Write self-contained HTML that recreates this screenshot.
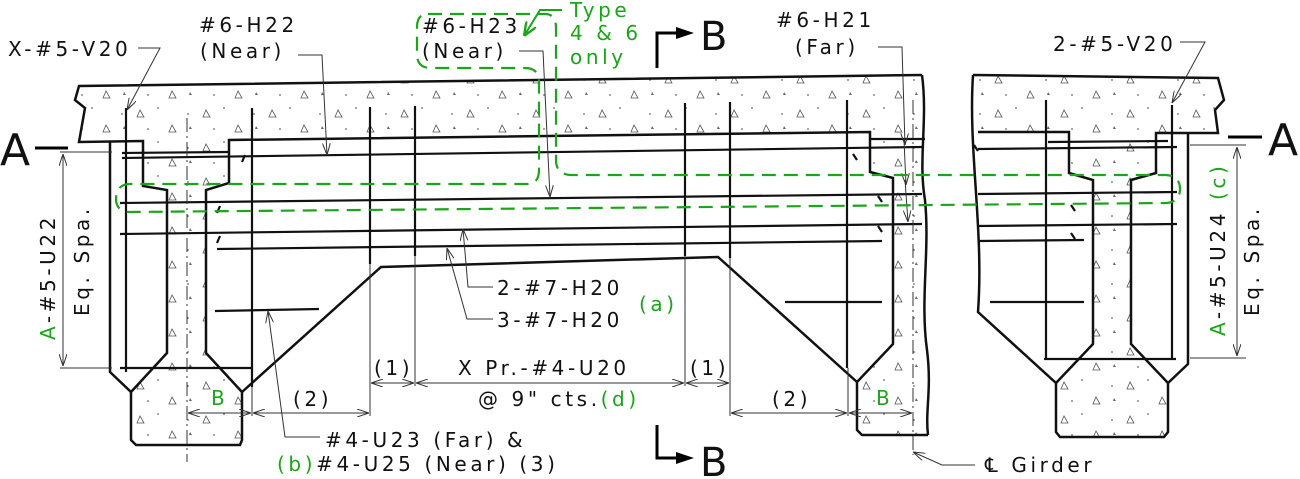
<!DOCTYPE html>
<html><head><meta charset="utf-8"><style>
html,body{margin:0;padding:0;background:#fff;}
svg{display:block;}
text{font-family:"DejaVu Sans","Liberation Sans",sans-serif;font-size:20px;letter-spacing:3.6px;fill:#111;}
.g{fill:#1aa51a;}
</style></head><body>
<svg width="1300" height="479" viewBox="0 0 1300 479" xmlns="http://www.w3.org/2000/svg">
<defs>
<pattern id="conc" width="66" height="34" patternUnits="userSpaceOnUse">
<path d="M8,8 l4,7 h-7 z M40,23 l4,7 h-7 z" fill="none" stroke="#555" stroke-width="0.8"/>
<circle cx="26" cy="6" r="0.9" fill="#666"/><circle cx="56" cy="12" r="0.9" fill="#666"/>
<circle cx="16" cy="27" r="0.9" fill="#666"/>
<path d="M58,24 l2,3 h-3 z" fill="#666"/>
</pattern>
<marker id="ar" viewBox="0 0 12 8" refX="12" refY="4" markerWidth="12" markerHeight="8" orient="auto-start-reverse" markerUnits="userSpaceOnUse">
<path d="M0,0 L12,4 L0,8" fill="none" stroke="#333" stroke-width="1"/></marker>
<marker id="arg" viewBox="0 0 12 10" refX="12" refY="5" markerWidth="14" markerHeight="12" orient="auto" markerUnits="userSpaceOnUse">
<path d="M0,0 L12,5 L0,10" fill="none" stroke="#1aa51a" stroke-width="2"/></marker>
</defs>

<g fill="url(#conc)" stroke="none">
<path d="M79,86 L922,75 L925,135 L229,140 L79,142 L85,108 L75,100 Z"/>
<path d="M143,141 L229,140 L229,183 L206,190 L206,353 L242,392 L242,440 L240,445 L136,445 L131,440 L131,392 L167,353 L167,190 L143,186 Z"/>
<path d="M870,132 L925,132 L928,435 L862,435 L857,430 L857,382 L893,344 L893,178 L870,172 Z"/>
<path d="M973,75 L1218,78 L1224,100 L1215,110 L1218,133 L973,133 Z"/>
<path d="M1069,132 L1156,133 L1156,173 L1131,180 L1131,344 L1168,383 L1168,432 L1164,437 L1060,437 L1056,432 L1056,383 L1093,344 L1093,180 L1069,173 Z"/>
</g>

<g fill="none" stroke="#111" stroke-width="2.5" stroke-linejoin="miter">
<path d="M922,75 L79,86 L75,100 L85,108 L79,142 L143,141 L143,186 L167,190 L167,353 L131,392 L131,440 L136,445 L240,445 L242,440 L242,392 L206,353 L206,190 L229,183 L229,140 L870,132 L870,172 L893,178 L893,344 L857,382 L857,430 L862,435 L928,435"/>
<path d="M922,75 C928,120 918,160 925,200 C930,250 920,300 927,350 C932,390 925,410 928,435"/>
<path d="M242,392 L381,267 L718,257 L857,382"/>
<path d="M973,75 L1218,78 L1224,100 L1215,110 L1218,133 L1156,133 L1156,173 L1131,180 L1131,344 L1168,383 L1168,432 L1164,437 L1060,437 L1056,432 L1056,383 L1093,344 L1093,180 L1069,173 L1069,132 L978,132"/>
<path d="M973,75 C968,150 984,230 978,312 L1056,383"/>
<path d="M1188,133 L1188,364 L1168,383"/>
<path d="M110,142 L110,372 L131,392"/>
</g>

<g fill="none" stroke="#111" stroke-width="2.2">
<path d="M126,108 V372"/>
<path d="M252,108 V387"/>
<path d="M370,107 V264"/><path d="M415,106 V256"/>
<path d="M685,103 V256"/><path d="M730,102 V258"/>
<path d="M847,100 V368"/>
<path d="M1046,100 V360"/><path d="M1172,105 V360"/>
<path d="M122,153 L229,152"/>
<path d="M122,158 L922,147"/>
<path d="M978,149 L1177,147"/>
<path d="M1048,142 L1168,141"/>
<path d="M870,139 L925,139"/>
<path d="M120,203 L922,194"/><path d="M978,194 L1177,192"/>
<path d="M120,234 L922,224"/><path d="M978,226 L1177,224"/>
<path d="M217,249 L882,241"/><path d="M978,241 L1084,240"/>
<path d="M215,311 L319,309"/>
<path d="M785,302 L882,302"/><path d="M990,302 L1084,302"/>
<path d="M120,368 L252,368"/><path d="M1044,359 L1176,359"/>
<path d="M242,162 l3,-7 M217,213 l3,-7 M217,243 l3,-7 M853,154 l4,6 M878,196 l4,6 M878,226 l4,6 M974,145 l4,6 M1071,205 l4,6 M1071,233 l4,6"/>
</g>

<g stroke="#333" stroke-width="1" fill="none" stroke-dasharray="14,4,2,4">
<path d="M187,118 V462"/><path d="M913,100 V455"/>
</g>

<g stroke="#333" stroke-width="1" fill="none">
<path d="M60,152 H112 M60,368 H112"/>
<path d="M63,154 V366" marker-start="url(#ar)" marker-end="url(#ar)"/>
<path d="M1190,145 H1246 M1190,358 H1246"/>
<path d="M1237,147 V356" marker-start="url(#ar)" marker-end="url(#ar)"/>
<path d="M370,264 V416 M415,256 V386 M685,256 V386 M730,258 V416 M252,387 V416 M848,368 V416"/>
<path d="M188,413 H251" marker-start="url(#ar)" marker-end="url(#ar)"/>
<path d="M253,413 H369" marker-start="url(#ar)" marker-end="url(#ar)"/>
<path d="M371,383 H414" marker-start="url(#ar)" marker-end="url(#ar)"/>
<path d="M416,383 H684" marker-start="url(#ar)" marker-end="url(#ar)"/>
<path d="M686,383 H729" marker-start="url(#ar)" marker-end="url(#ar)"/>
<path d="M731,413 H847" marker-start="url(#ar)" marker-end="url(#ar)"/>
<path d="M849,413 H912" marker-start="url(#ar)" marker-end="url(#ar)"/>
<path d="M138,48 H160 L127,110" marker-end="url(#ar)"/>
<path d="M298,55 H322 L327,155" marker-end="url(#ar)"/>
<path d="M519,51 H543 L550,197" marker-end="url(#ar)"/>
<path d="M878,47 H902 L905,145" marker-end="url(#ar)"/>
<path d="M904,140 L906,185" marker-end="url(#ar)"/>
<path d="M905,180 L908,222" marker-end="url(#ar)"/>
<path d="M1180,42 H1205 L1172,103" marker-end="url(#ar)"/>
<path d="M493,287 H468 L463,229" marker-end="url(#ar)"/>
<path d="M493,319 H467 L447,248" marker-end="url(#ar)"/>
<path d="M320,437 H285 L268,311" marker-end="url(#ar)"/>
<path d="M975,465 H942 L913,452" marker-end="url(#ar)"/>
</g>

<g fill="none" stroke="#1aa51a" stroke-width="2.2" stroke-dasharray="14,8">
<path d="M428,14 H545 Q556,14 556,28 V160 Q556,175 572,175 H1166 Q1180,176 1180,189 Q1180,202 1166,203 L130,212 Q117,212 116,200 Q116,184 130,184 H527 Q539,184 539,170 V82 Q539,68 525,68 H431 Q417,68 417,54 V27 Q417,14 428,14 Z"/>
</g>
<path d="M562,10 H540 L524,36" fill="none" stroke="#1aa51a" stroke-width="2" marker-end="url(#arg)"/>

<path d="M35,148 H68 M1228,137 H1262" stroke="#000" stroke-width="3"/>
<text x="0" y="165" style="font-size:44px;letter-spacing:0">A</text>
<text x="1268" y="155" style="font-size:44px;letter-spacing:0">A</text>
<path d="M657,68 V33 H678 M657,425 V458 H678" fill="none" stroke="#000" stroke-width="3"/>
<path d="M676,27 L694,33 L676,39 Z M676,452 L694,458 L676,464 Z" fill="#000"/>
<text x="700" y="50" style="font-size:40px;letter-spacing:0">B</text>
<text x="700" y="476" style="font-size:40px;letter-spacing:0">B</text>

<text x="8" y="56">X-#5-V20</text>
<text x="199" y="32">#6-H22</text>
<text x="200" y="58">(Near)</text>
<text x="422" y="33">#6-H23</text>
<text x="422" y="58">(Near)</text>
<text x="570" y="17" class="g">Type</text>
<text x="570" y="40" class="g">4 &amp; 6</text>
<text x="570" y="64" class="g">only</text>
<text x="776" y="27">#6-H21</text>
<text x="795" y="54">(Far)</text>
<text x="1053" y="51">2-#5-V20</text>
<text x="497" y="295">2-#7-H20</text>
<text x="497" y="327">3-#7-H20</text>
<text x="639" y="311" class="g">(a)</text>
<text x="374" y="375">(1)</text>
<text x="458" y="375">X Pr.-#4-U20</text>
<text x="690" y="375">(1)</text>
<text x="478" y="406">@ 9" cts.<tspan class="g">(d)</tspan></text>
<text x="293" y="406">(2)</text>
<text x="772" y="406">(2)</text>
<text x="211" y="405" class="g" style="letter-spacing:0">B</text>
<text x="876" y="405" class="g" style="letter-spacing:0">B</text>
<text x="325" y="447">#4-U23 (Far) &amp;</text>
<text x="277" y="471"><tspan class="g">(b)</tspan>#4-U25 (Near) (3)</text>
<text x="985" y="472">℄ Girder</text>
<text transform="translate(55,340) rotate(-90)"><tspan class="g">A</tspan>-#5-U22</text>
<text transform="translate(89,316) rotate(-90)">Eq. Spa.</text>
<text transform="translate(1225,336) rotate(-90)"><tspan class="g">A</tspan>-#5-U24 <tspan class="g">(c)</tspan></text>
<text transform="translate(1259,316) rotate(-90)">Eq. Spa.</text>
</svg>
</body></html>
